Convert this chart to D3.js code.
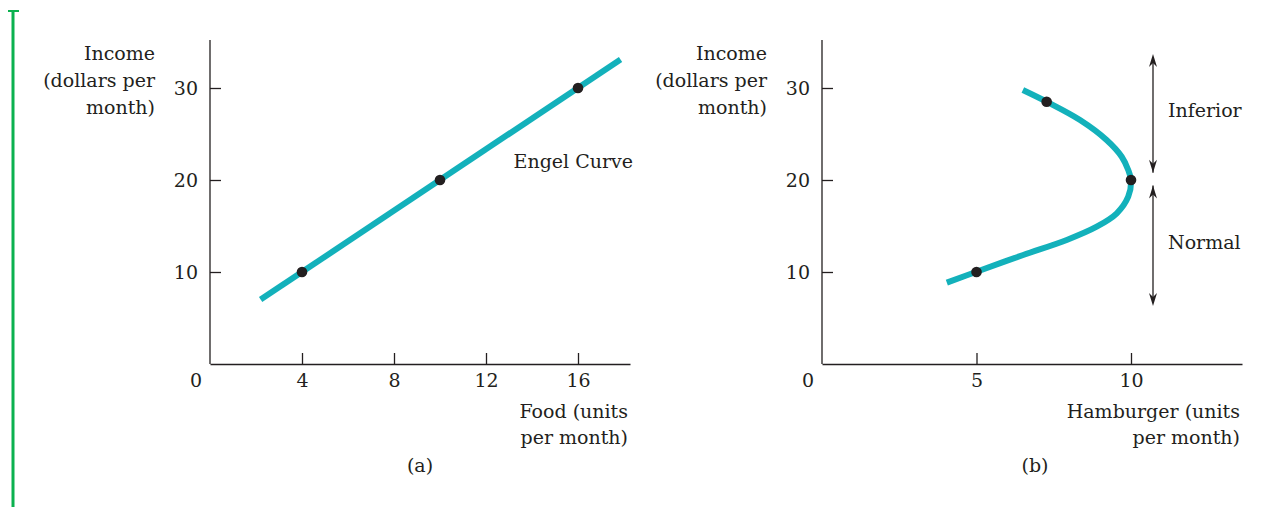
<!DOCTYPE html>
<html><head><meta charset="utf-8">
<script src="https://cdn.jsdelivr.net/npm/d3@7"></script>
<style>
html,body{margin:0;padding:0;background:#fff;}
text{font-family:"DejaVu Serif",serif;fill:#231f20;}
</style></head>
<body><svg id="c" width="1267" height="507"></svg>
<script>
// ---- data ----
const yTicks = [10, 20, 30];
const foodTicks = [4, 8, 12, 16];
const burgerTicks = [5, 10];
const engelLine = [[2.2, 7.0], [17.85, 33.1]];
const engelDots = [[4, 10], [10, 20], [16, 30]];
const burgerCurve = [[4.04, 8.84], [5.0, 10.03], [6.51, 11.85], [7.92, 13.48], [8.89, 14.92], [9.54, 16.38], [9.91, 18.18], [10.0, 20.0], [9.91, 21.09], [9.70, 22.53], [9.21, 24.35], [8.35, 26.52], [7.27, 28.51], [6.50, 29.78]];
const burgerDots = [[5, 10], [10, 20], [7.27, 28.51]];
const yLabel = ["Income", "(dollars per", "month)"];
const foodLabel = ["Food (units", "per month)"];
const burgerLabel = ["Hamburger (units", "per month)"];
const arrows = [{from: 20.8, to: 33.7, text: "Inferior", ty: 27.5}, {from: 19.4, to: 6.3, text: "Normal", ty: 13.2}];

const svg = d3.select("#c");
const ink = "#231f20", teal = "#13b1bb";
const FS = 19;

// green marker
svg.append("line").attr("x1",13).attr("x2",13).attr("y1",11).attr("y2",507).attr("stroke","#0bb14f").attr("stroke-width",3);
svg.append("line").attr("x1",8).attr("x2",19).attr("y1",11).attr("y2",11).attr("stroke","#0bb14f").attr("stroke-width",2);

function panel(opt){
  const g = svg.append("g");
  const x = d3.scaleLinear().domain([0, opt.xMax]).range([opt.x0, opt.x0 + 420]);
  const y = d3.scaleLinear().domain([0, 35]).range([364, 42]);
  const yAx = g.append("g").attr("transform",`translate(${opt.x0},0)`)
    .call(d3.axisLeft(y).tickValues(yTicks).tickSizeInner(-11).tickSizeOuter(0).tickPadding(12).tickFormat(d3.format("d")));
  const xAx = g.append("g").attr("transform",`translate(0,364)`)
    .call(d3.axisBottom(x).tickValues(opt.xTicks).tickSizeInner(-11).tickSizeOuter(0).tickPadding(10).tickFormat(d3.format("d")));
  [yAx, xAx].forEach(a => {
    a.selectAll("path,line").attr("stroke", ink).attr("stroke-width",1.3);
    a.selectAll("text").attr("font-size",FS).attr("font-family","DejaVu Serif").attr("fill",ink);
  });
  yAx.select(".domain").attr("d", `M0,${y(0)}V40`);
  g.append("text").attr("x", opt.x0 - 14).attr("y", 387).attr("text-anchor","middle").attr("font-size",FS).text("0");
  const yl = g.append("text").attr("text-anchor","end").attr("font-size",FS);
  yLabel.forEach((t,i)=> yl.append("tspan").attr("x", opt.x0 - 55).attr("y", 60 + i*27).text(t));
  const xl = g.append("text").attr("text-anchor","end").attr("font-size",FS);
  opt.xLabel.forEach((t,i)=> xl.append("tspan").attr("x", opt.x0 + 418).attr("y", 418 + i*26).text(t));
  g.append("text").attr("x", opt.x0 + opt.sub).attr("y", 472).attr("text-anchor","middle").attr("font-size",FS).text(opt.letter);
  return {g, x, y};
}

// panel (a)
const A = panel({x0:210, xMax:420/23, xTicks:foodTicks, xLabel:foodLabel, letter:"(a)", sub:210});
A.g.append("path").datum(engelLine).attr("fill","none").attr("stroke",teal).attr("stroke-width",6)
  .attr("d", d3.line().x(d=>A.x(d[0])).y(d=>A.y(d[1])));
A.g.selectAll("circle.d").data(engelDots).join("circle").attr("cx",d=>A.x(d[0])).attr("cy",d=>A.y(d[1])).attr("r",5.3).attr("fill",ink);
A.g.append("text").attr("x", A.x(13.2)).attr("y", A.y(21.3)).attr("font-size",FS).text("Engel Curve");

// panel (b)
const B = panel({x0:822, xMax:420/30.9, xTicks:burgerTicks, xLabel:burgerLabel, letter:"(b)", sub:213});
B.g.append("path").datum(burgerCurve).attr("fill","none").attr("stroke",teal).attr("stroke-width",6)
  .attr("d", d3.line().curve(d3.curveCatmullRom.alpha(0.5)).x(d=>B.x(d[0])).y(d=>B.y(d[1])));
B.g.selectAll("circle.d").data(burgerDots).join("circle").attr("cx",d=>B.x(d[0])).attr("cy",d=>B.y(d[1])).attr("r",5.3).attr("fill",ink);
const ax = 1153;
arrows.forEach(a => {
  const y1 = B.y(a.from), y2 = B.y(a.to);
  const dir = Math.sign(y2 - y1);
  B.g.append("line").attr("x1",ax).attr("x2",ax).attr("y1",y1).attr("y2",y2 - dir*6).attr("stroke",ink).attr("stroke-width",1.3);
  B.g.append("path").attr("d",`M${ax},${y2}L${ax-4},${y2-dir*13}L${ax},${y2-dir*9}L${ax+4},${y2-dir*13}Z`).attr("fill",ink);
  B.g.append("path").attr("d",`M${ax},${y1}L${ax-4},${y1+dir*13}L${ax},${y1+dir*9}L${ax+4},${y1+dir*13}Z`).attr("fill",ink);
  B.g.append("text").attr("x",1168).attr("y",B.y(a.ty)+6).attr("font-size",FS).text(a.text);
});
</script></body></html>
